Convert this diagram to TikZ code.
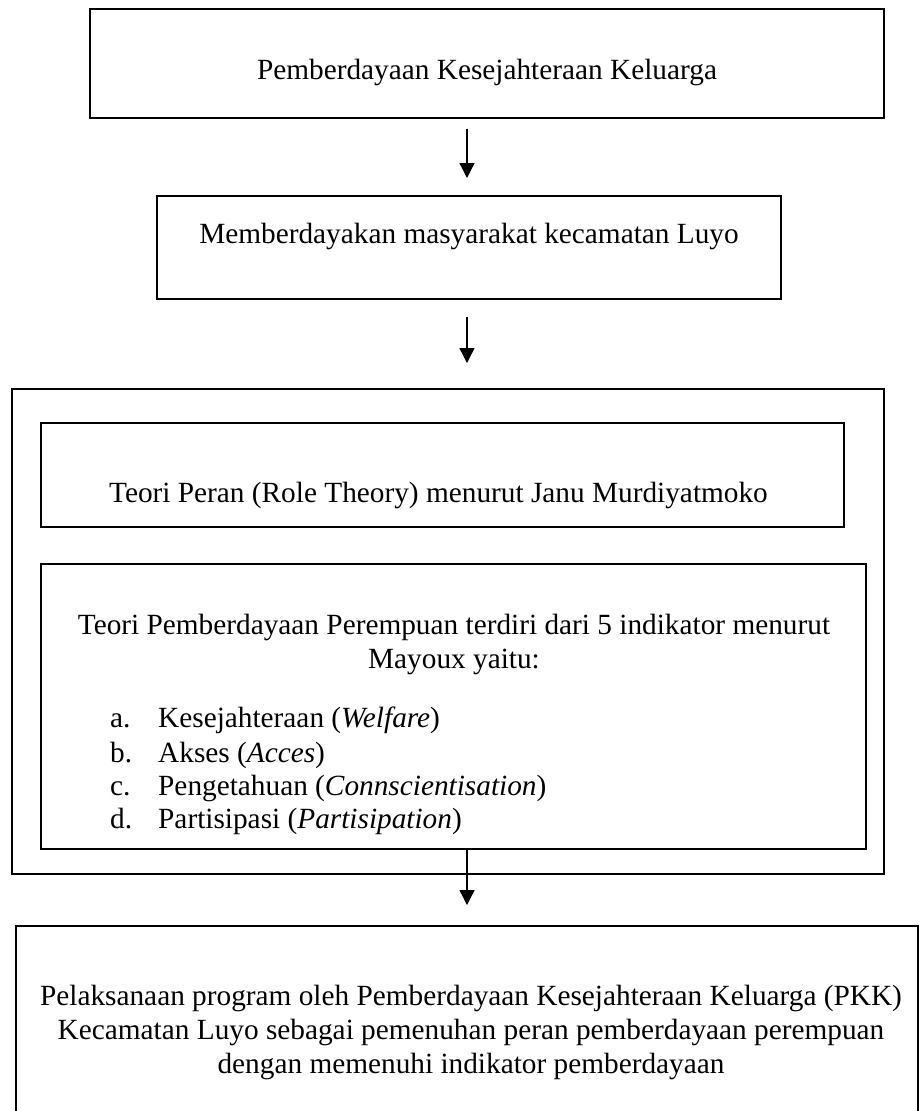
\documentclass[tikz,border=0pt]{standalone}
\usepackage{fontspec}
\setmainfont{Liberation Serif}
\usetikzlibrary{arrows.meta}
\begin{document}
\begin{tikzpicture}[x=1pt,y=-1pt,
  box/.style={draw, line width=2pt, inner sep=0pt, outer sep=0pt, rectangle},
  txt/.style={anchor=base, inner sep=0pt, font=\fontsize{29.3}{34}\selectfont},
  ltxt/.style={txt, anchor=base west},
  arr/.style={-{Triangle[length=15pt,width=15pt]}, line width=1.3pt}]
\useasboundingbox (0,0) rectangle (919,1111);
\clip (0,0) rectangle (919,1111);
\coordinate (ax) at (467,0);
% boxes
\node[box, minimum width=794pt, minimum height=109pt] (b1) at (487,63.5) {};
\node[box, minimum width=624pt, minimum height=103pt] (b2) at (469,247.5) {};
\node[box, minimum width=872pt, minimum height=485pt] (outer) at (448,631.5) {};
\node[box, minimum width=803pt, minimum height=104pt] (i1) at (442.5,475) {};
\node[box, minimum width=825pt, minimum height=285pt] (i2) at (453.5,706.5) {};
\node[box, minimum width=902pt, minimum height=199pt] (b4) at (467,1025.5) {};
% texts
\node[txt] (t1) at (487,79) {Pemberdayaan Kesejahteraan Keluarga};
\node[txt] (t2) at (469,243) {Memberdayakan masyarakat kecamatan Luyo};
\node[txt] (t3) at (438.5,502) {Teori Peran (Role Theory) menurut Janu Murdiyatmoko};
\node[txt] (t4a) at (454,634) {Teori Pemberdayaan Perempuan terdiri dari 5 indikator menurut};
\node[txt] (t4b) at (454,668) {Mayoux yaitu:};
\node[ltxt] (la) at (110,727) {a.};
\node[ltxt] (lb) at (110,762) {b.};
\node[ltxt] (lc) at (110,795) {c.};
\node[ltxt] (ld) at (110,828) {d.};
\node[ltxt] (ia) at (158,727) {Kesejahteraan (\textit{Welfare})};
\node[ltxt] (ib) at (158,762) {Akses (\textit{Acces})};
\node[ltxt] (ic) at (158,795) {Pengetahuan (\textit{Connscientisation})};
\node[ltxt] (id) at (158,828) {Partisipasi (\textit{Partisipation})};
\node[txt] (t5a) at (471,1005) {Pelaksanaan program oleh Pemberdayaan Kesejahteraan Keluarga (PKK)};
\node[txt] (t5b) at (471,1039) {Kecamatan Luyo sebagai pemenuhan peran pemberdayaan perempuan};
\node[txt] (t5c) at (471,1073) {dengan memenuhi indikator pemberdayaan};
% arrows
\draw[arr, shorten <=11pt, shorten >=18pt] (b1.south -| ax) -- (b2.north -| ax);
\draw[arr, shorten <=18pt, shorten >=26pt] (b2.south -| ax) -- (outer.north -| ax);
\draw[arr, shorten >=21pt] (i2.south -| ax) -- (b4.north -| ax);
\end{tikzpicture}
\end{document}
